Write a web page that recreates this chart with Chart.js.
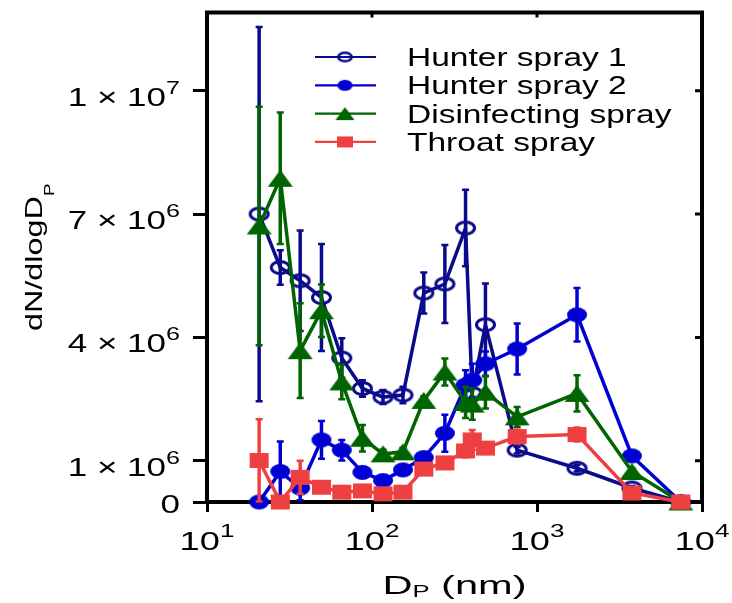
<!DOCTYPE html>
<html lang="en">
<head>
    <meta charset="UTF-8">
    <title>dN/dlogDp of sprays</title>
    <script src="https://cdn.jsdelivr.net/npm/chart.js"></script>
    <style>
        body { margin: 0; background: #fff; }
        #sprayChart { display: block; }
    </style>
</head>
<body>
    <canvas id="sprayChart" width="732" height="603"></canvas>

    <script>
        // particle diameter (nm), shared by all four series
        const diameters = [20.7, 27.8, 36.7, 49.4, 65.6, 87.5, 116.6, 154, 206, 276.5, 369, 405, 487, 758, 1748, 3760, 7440];

        // dN/dlogDp values, in units of 1e6
        const hunter1 = [7.0, 5.70, 5.38, 4.97, 3.50, 2.76, 2.55, 2.60, 5.08, 5.30, 6.66, 2.64, 4.31, 1.26, 0.82, 0.34, 0];
        const hunter1Err = [4.55, 0.42, 1.22, 1.3, 0.48, 0.2, 0.17, 0.2, 0.5, 0.95, 0.93, 0.3, 1.0, 0.08, 0.08, 0.05, 0];

        const hunter2 = [0, 0.74, 0.34, 1.51, 1.26, 0.72, 0.52, 0.78, 1.08, 1.67, 2.84, 2.96, 3.36, 3.72, 4.55, 1.12, 0];
        const hunter2Err = [0, 0.73, 0.3, 0.46, 0.25, 0.06, 0.06, 0.1, 0.06, 0.45, 0.36, 0.4, 0.3, 0.62, 0.65, 0.05, 0];

        const disinfecting = [6.71, 7.87, 3.68, 4.65, 2.92, 1.55, 1.17, 1.22, 2.47, 3.16, 2.42, 2.38, 2.67, 2.07, 2.64, 0.74, 0];
        const disinfectingErr = [2.9, 1.6, 1.15, 0.64, 0.42, 0.32, 0.1, 0.1, 0.1, 0.33, 0.38, 0.38, 0.4, 0.24, 0.44, 0.08, 0];

        const throat = [1.01, 0, 0.6, 0.36, 0.24, 0.27, 0.2, 0.24, 0.8, 0.95, 1.24, 1.51, 1.31, 1.59, 1.64, 0.22, 0];
        const throatErr = [1.0, 0, 0.4, 0.12, 0.05, 0.05, 0.05, 0.05, 0.05, 0.08, 0.15, 0.24, 0.12, 0.17, 0.17, 0.03, 0];

        const seriesNames = ['Hunter spray 1', 'Hunter spray 2', 'Disinfecting spray', 'Throat spray'];
        const seriesColors = ['#0a0a8c', '#0000d2', '#006400', '#ee4040'];

        const xTicks = [10, 100, 1000, 10000];
        const yTicks = [0, 1e6, 4e6, 7e6, 1e7];

        const FONT = '"Liberation Sans", Arial, Helvetica, sans-serif';

        // marker images (ellipses, not circles, like the original)
        function makeMarker(kind, color, w, h, stroke) {
            const c = document.createElement('canvas');
            c.width = w + 4;
            c.height = h + 4;
            const g = c.getContext('2d');
            const cx = c.width / 2, cy = c.height / 2;
            g.fillStyle = color;
            g.strokeStyle = color;
            if (kind === 'open') {
                g.lineWidth = stroke;
                g.beginPath();
                g.ellipse(cx, cy, w / 2 - stroke / 2, h / 2 - stroke / 2, 0, 0, Math.PI * 2);
                g.stroke();
            } else if (kind === 'dot') {
                g.beginPath();
                g.ellipse(cx, cy, w / 2, h / 2, 0, 0, Math.PI * 2);
                g.fill();
            } else if (kind === 'tri') {
                g.beginPath();
                g.moveTo(cx, cy - h / 2);
                g.lineTo(cx + w / 2, cy + h / 2);
                g.lineTo(cx - w / 2, cy + h / 2);
                g.closePath();
                g.fill();
            } else {
                g.fillRect(cx - w / 2, cy - h / 2, w, h);
            }
            return c;
        }

        const plotMarkers = [
            makeMarker('open', seriesColors[0], 21, 15, 3),
            makeMarker('dot', seriesColors[1], 20, 15),
            makeMarker('tri', seriesColors[2], 25, 17),
            makeMarker('square', seriesColors[3], 19, 15)
        ];
        const legendMarkers = [
            makeMarker('open', seriesColors[0], 16, 11, 2.5),
            makeMarker('dot', seriesColors[1], 15, 11),
            makeMarker('tri', seriesColors[2], 19, 13),
            makeMarker('square', seriesColors[3], 16, 11)
        ];

        const values = [hunter1, hunter2, disinfecting, throat];
        const errors = [hunter1Err, hunter2Err, disinfectingErr, throatErr];

        const toPoints = arr => arr.map((v, i) => ({ x: diameters[i], y: v * 1e6 }));

        // text pieces drawn wide (the original lettering is stretched)
        function textWidth(ctx, parts, sx) {
            let w = 0;
            parts.forEach(p => {
                ctx.font = p.size + 'px ' + FONT;
                w += ctx.measureText(p.text).width * sx;
            });
            return w;
        }
        function drawParts(ctx, parts, x, y, sx) {
            parts.forEach(p => {
                ctx.save();
                ctx.font = p.size + 'px ' + FONT;
                ctx.translate(x, y + (p.dy || 0));
                ctx.scale(sx, 1);
                ctx.textBaseline = 'alphabetic';
                ctx.textAlign = 'left';
                ctx.fillText(p.text, 0, 0);
                ctx.restore();
                ctx.font = p.size + 'px ' + FONT;
                x += ctx.measureText(p.text).width * sx;
            });
        }

        const exponent = v => Math.floor(Math.log10(v) + 1e-9);

        // error bars, frame, tick labels, axis titles and legend
        const decorations = {
            id: 'decorations',
            afterDatasetDraw(chart, args) {
                const i = args.index;
                const ctx = chart.ctx;
                const xs = chart.scales.x, ys = chart.scales.y;
                ctx.save();
                ctx.strokeStyle = seriesColors[i];
                values[i].forEach((v, k) => {
                    const e = errors[i][k];
                    if (!e) return;
                    const px = xs.getPixelForValue(diameters[k]);
                    const top = ys.getPixelForValue((v + e) * 1e6);
                    const bot = ys.getPixelForValue(Math.max(0, v - e) * 1e6);
                    ctx.lineWidth = 3.5;
                    ctx.beginPath();
                    ctx.moveTo(px, top);
                    ctx.lineTo(px, bot);
                    ctx.stroke();
                    ctx.lineWidth = 2.5;
                    ctx.beginPath();
                    ctx.moveTo(px - 3.5, top);
                    ctx.lineTo(px + 3.5, top);
                    ctx.moveTo(px - 3.5, bot);
                    ctx.lineTo(px + 3.5, bot);
                    ctx.stroke();
                });
                ctx.restore();
            },
            afterDraw(chart) {
                const ctx = chart.ctx;
                const a = chart.chartArea;
                const xs = chart.scales.x, ys = chart.scales.y;
                ctx.save();
                ctx.fillStyle = '#000';
                ctx.strokeStyle = '#000';

                // top and right sides of the box, with small inner ticks
                ctx.lineWidth = 4;
                ctx.lineCap = 'square';
                ctx.beginPath();
                ctx.moveTo(a.left, a.top);
                ctx.lineTo(a.right, a.top);
                ctx.lineTo(a.right, a.bottom);
                ctx.stroke();
                ctx.lineCap = 'butt';
                ctx.lineWidth = 3;
                ctx.beginPath();
                xTicks.slice(1, -1).forEach(v => {
                    const px = xs.getPixelForValue(v);
                    ctx.moveTo(px, a.top);
                    ctx.lineTo(px, a.top + 5);
                });
                yTicks.forEach(v => {
                    const py = ys.getPixelForValue(v);
                    ctx.moveTo(a.right, py);
                    ctx.lineTo(a.right - 7, py);
                });
                ctx.stroke();

                // y tick labels
                yTicks.forEach(v => {
                    const py = ys.getPixelForValue(v);
                    let parts, base;
                    if (v === 0) {
                        parts = [{ text: '0', size: 25 }];
                        base = py + 11;
                    } else {
                        const e = exponent(v);
                        const m = Math.round(v / Math.pow(10, e));
                        parts = [{ text: m + ' \u00d7 10', size: 25 }, { text: String(e), size: 18, dy: -12 }];
                        base = py + 15;
                    }
                    const w = textWidth(ctx, parts, 1.4);
                    drawParts(ctx, parts, 180 - w, base, 1.4);
                });

                // x tick labels
                xTicks.forEach(v => {
                    const px = xs.getPixelForValue(v);
                    const parts = [{ text: '10', size: 25 }, { text: String(exponent(v)), size: 18, dy: -13 }];
                    const w = textWidth(ctx, parts, 1.45);
                    drawParts(ctx, parts, px - w / 2, a.bottom + 48, 1.45);
                });

                // x title
                const xt = [{ text: 'D', size: 26 }, { text: 'P', size: 16, dy: 3 }, { text: ' (nm)', size: 26 }];
                const xw = textWidth(ctx, xt, 1.6);
                drawParts(ctx, xt, (a.left + a.right) / 2 - xw / 2, 594, 1.6);

                // y title, rotated
                const yt = [{ text: 'dN/dlogD', size: 24 }, { text: 'P', size: 14, dy: 12 }];
                const yw = textWidth(ctx, yt, 1.35);
                ctx.save();
                ctx.translate(42, (a.top + a.bottom) / 2);
                ctx.rotate(-Math.PI / 2);
                drawParts(ctx, yt, -yw / 2, 0, 1.35);
                ctx.restore();

                // legend inside the plot
                seriesNames.forEach((name, i) => {
                    const ry = 57 + i * 28.3;
                    ctx.strokeStyle = seriesColors[i];
                    ctx.lineWidth = 2.2;
                    ctx.beginPath();
                    ctx.moveTo(315, ry);
                    ctx.lineTo(376, ry);
                    ctx.stroke();
                    const mk = legendMarkers[i];
                    ctx.drawImage(mk, 345 - mk.width / 2, ry - mk.height / 2);
                    ctx.fillStyle = '#000';
                    drawParts(ctx, [{ text: name, size: 25 }], 407, ry + 9, 1.34);
                });
                ctx.restore();
            }
        };

        const datasets = seriesNames.map((name, i) => ({
            label: name,
            data: toPoints(values[i]),
            borderColor: seriesColors[i],
            backgroundColor: seriesColors[i],
            borderWidth: 3.5,
            pointStyle: plotMarkers[i],
            pointRadius: 9,
            tension: 0,
            clip: false,
            order: 4 - i
        }));

        new Chart(document.getElementById('sprayChart'), {
            type: 'line',
            data: { datasets: datasets },
            options: {
                responsive: false,
                animation: false,
                events: [],
                layout: { padding: { top: 9, right: 30, left: 0, bottom: 0 } },
                plugins: {
                    legend: { display: false },
                    tooltip: { enabled: false }
                },
                scales: {
                    x: {
                        type: 'logarithmic',
                        min: 10,
                        max: 10000,
                        ticks: { display: false },
                        grid: { display: true, drawOnChartArea: false, drawTicks: true, tickLength: 10, tickWidth: 3, tickColor: '#000' },
                        border: { display: true, width: 4, color: '#000' },
                        afterBuildTicks: s => { s.ticks = xTicks.map(v => ({ value: v })); },
                        afterFit: s => { s.height = 101; }
                    },
                    y: {
                        type: 'linear',
                        min: 0,
                        max: 1.19e7,
                        ticks: { display: false },
                        grid: { display: true, drawOnChartArea: false, drawTicks: true, tickLength: 14, tickWidth: 3, tickColor: '#000' },
                        border: { display: true, width: 4, color: '#000' },
                        afterBuildTicks: s => { s.ticks = yTicks.map(v => ({ value: v })); },
                        afterFit: s => { s.width = 207; }
                    }
                }
            },
            plugins: [decorations]
        });
    </script>
</body>
</html>
